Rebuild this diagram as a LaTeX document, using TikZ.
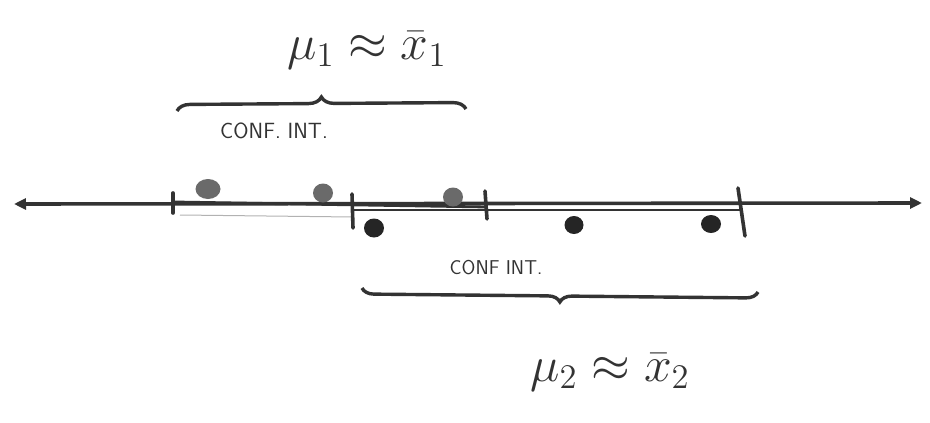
\documentclass[tikz,border=0pt]{standalone}
\usetikzlibrary{arrows.meta,decorations.pathreplacing,shapes.geometric}
\definecolor{ink}{HTML}{333333}
\definecolor{dotA}{HTML}{6A6A6A}
\definecolor{dotB}{HTML}{252525}
\begin{document}
\begin{tikzpicture}[x=1pt,y=-1pt,
  axis/.style={draw=ink,line width=3.6pt,{Triangle[length=12pt,width=11pt]}-{Triangle[length=12pt,width=11pt]}},
  extra/.style={draw=ink,line width=2.8pt},
  faint/.style={draw=gray!60,line width=1pt},
  tickmark/.style={draw=ink,line width=3.6pt,line cap=round},
  topdot/.style={ellipse,fill=dotA,draw=none,inner sep=0pt},
  botdot/.style={ellipse,fill=dotB,draw=none,inner sep=0pt},
  bracestyle/.style={draw=ink,line width=3.4pt,decorate},
  lbl/.style={text=ink,font=\sffamily\fontsize{22}{26}\selectfont,inner sep=0pt},
  lblb/.style={text=ink,font=\sffamily\fontsize{20}{24}\selectfont,inner sep=0pt},
  mathlbl/.style={text=ink,font=\fontsize{20}{24}\selectfont,inner sep=0pt,scale=2.4}]
\useasboundingbox (0,0) rectangle (930,423);
% axis
\coordinate (L) at (14,204);
\coordinate (R) at (922,203);
\draw[axis] (L) -- (R);
\coordinate (e1) at (175,202); \coordinate (e2) at (487,207);
\draw[extra] (e1) -- (e2);
\coordinate (e3) at (353,210); \coordinate (e4) at (741,210);
\draw[extra] (e3) -- (e4);
\coordinate (f1) at (180,215); \coordinate (f2) at (353,217);
\draw[faint] (f1) -- (f2);
% ticks
\coordinate (t1a) at (173,193); \coordinate (t1b) at (173,213);
\coordinate (t2a) at (352,194); \coordinate (t2b) at (353,228);
\coordinate (t3a) at (485,191); \coordinate (t3b) at (487,219);
\coordinate (t4a) at (738,188); \coordinate (t4b) at (745,236);
\draw[tickmark] (t1a) -- (t1b);
\draw[tickmark] (t2a) -- (t2b);
\draw[tickmark] (t3a) -- (t3b);
\draw[tickmark] (t4a) -- (t4b);
% dots
\node[topdot,minimum width=25pt,minimum height=20pt] (a1) at (208,189) {};
\node[topdot,minimum width=20pt,minimum height=19pt] (a2) at (323,193) {};
\node[topdot,minimum width=20pt,minimum height=19pt] (a3) at (453,197) {};
\node[botdot,minimum width=20pt,minimum height=19pt] (b1) at (374,228) {};
\node[botdot,minimum width=19pt,minimum height=18pt] (b2) at (574,225) {};
\node[botdot,minimum width=20pt,minimum height=18pt] (b3) at (711,224) {};
% top brace
\coordinate (ba) at (177,111); \coordinate (bb) at (466,109);
\draw[bracestyle,decoration={brace,amplitude=13pt}] (ba) -- (bb);
\node[mathlbl] (m1) at (367,50) {$\mu_1 \approx \bar{x}_1$};
\node[lbl] (c1) at (274,131) {CONF.\ INT.};
% bottom brace
\coordinate (bc) at (758,292); \coordinate (bd) at (362,288);
\draw[bracestyle,decoration={brace,amplitude=12pt}] (bc) -- (bd);
\node[lblb] (c2) at (496,268) {CONF INT.};
\node[mathlbl] (m2) at (610,372) {$\mu_2 \approx \bar{x}_2$};
\end{tikzpicture}
\end{document}
